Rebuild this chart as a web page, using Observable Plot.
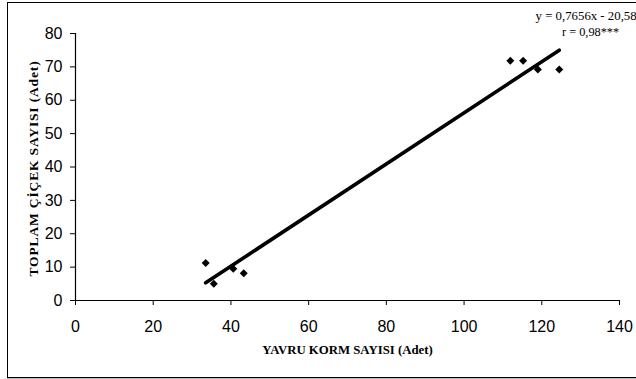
<!DOCTYPE html>
<html>
<head>
<meta charset="utf-8">
<script src="https://cdn.jsdelivr.net/npm/d3@7"></script>
<script src="https://cdn.jsdelivr.net/npm/@observablehq/plot@0.6"></script>
<style>
  html, body { margin: 0; padding: 0; background: #fff; }
  #wrap { position: relative; width: 636px; height: 379px; overflow: hidden; }
  #border { position: absolute; left: 7px; top: 2px; width: 640px; height: 374px;
            border: 1.3px solid #000; box-shadow: 0 1px 0 #bbb; pointer-events: none; }
  .ytitle text { letter-spacing: 0.85px; }
</style>
</head>
<body>
<div id="wrap"><div id="border"></div></div>
<script>
// Data
const kormSayisi = [33.5, 35.6, 40.6, 43.3, 111.9, 115.2, 119.0, 124.5];   // x: YAVRU KORM SAYISI
const cicekSayisi = [11.2, 5.0, 9.5, 8.2, 71.8, 71.8, 69.2, 69.2];       // y: TOPLAM ÇİÇEK SAYISI
const trendX = [33.5, 124.5];
const trendY = [5.3, 75.0];
const xTicks = [0, 20, 40, 60, 80, 100, 120, 140];
const yTicks = [0, 10, 20, 30, 40, 50, 60, 70, 80];
const xTitle = "YAVRU KORM SAYISI (Adet)";
const yTitle = "TOPLAM ÇİÇEK SAYISI (Adet)";
const annLines = ["y = 0,7656x - 20,58", "r = 0,98***"];

const points = kormSayisi.map((x, i) => ({x, y: cicekSayisi[i]}));
const trend = trendX.map((x, i) => ({x, y: trendY[i]}));

const chart = Plot.plot({
  width: 636,
  height: 379,
  marginLeft: 75,
  marginRight: 17,
  marginTop: 33,
  marginBottom: 79,
  style: {background: "transparent", overflow: "visible"},
  x: {domain: [0, 140]},
  y: {domain: [0, 80]},
  marks: [
    Plot.ruleX([0], {stroke: "#000", strokeWidth: 1.2}),
    Plot.ruleY([0], {stroke: "#000", strokeWidth: 1.2}),
    Plot.axisX({ticks: xTicks, tickSize: 5, tickPadding: 15, fontSize: 16,
                fontFamily: "Liberation Sans, Arial, sans-serif", label: null,
                tickFormat: d => String(d), stroke: "#000", fill: "#000"}),
    Plot.axisY({ticks: yTicks, tickSize: 5, tickPadding: 8, fontSize: 16,
                fontFamily: "Liberation Sans, Arial, sans-serif", label: null,
                tickFormat: d => String(d), stroke: "#000", fill: "#000"}),
    Plot.line(trend, {x: "x", y: "y", stroke: "#000", strokeWidth: 3.6}),
    Plot.dot(points, {x: "x", y: "y", symbol: "diamond2", r: 3.6, fill: "#000", stroke: "none"}),
    Plot.text([xTitle], {frameAnchor: "bottom", textAnchor: "middle", dy: 53, fontSize: 12.8, fontWeight: "bold",
                fontFamily: "Liberation Serif, Times New Roman, serif", fill: "#000"}),
    Plot.text([yTitle], {frameAnchor: "left", textAnchor: "middle", dx: -42, dy: 1.5, rotate: -90,
                fontSize: 13.5, fontWeight: "bold", className: "ytitle",
                fontFamily: "Liberation Serif, Times New Roman, serif", fill: "#000"}),
    Plot.text([annLines[0]], {x: [118.4], y: [85.2], textAnchor: "start", fontSize: 12.8,
                fontFamily: "Liberation Serif, Times New Roman, serif", fill: "#000", clip: false}),
    Plot.text([annLines[1]], {x: [125.2], y: [80.4], textAnchor: "start", fontSize: 12.3,
                fontFamily: "Liberation Serif, Times New Roman, serif", fill: "#000", clip: false})
  ]
});
document.getElementById("wrap").prepend(chart);
</script>
</body>
</html>
